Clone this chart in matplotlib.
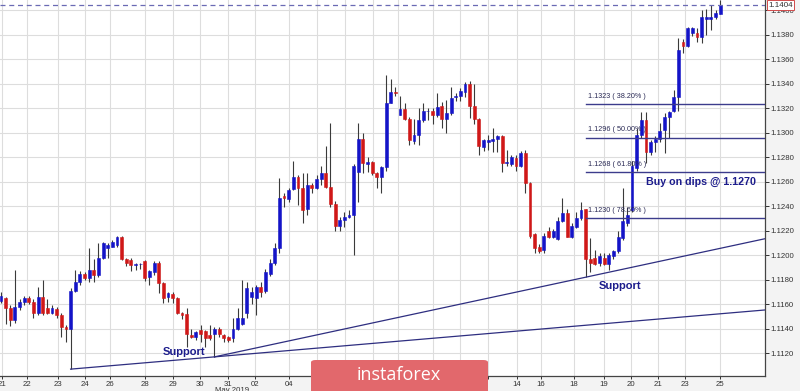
import matplotlib
matplotlib.use('Agg')
import matplotlib.pyplot as plt
from matplotlib.patches import FancyBboxPatch
import numpy as np

plt.rcParams['font.family'] = ['Liberation Sans', 'DejaVu Sans']

# ---- EUR/USD H4 candles ----
opens = [1.1163, 1.1165, 1.1157, 1.1147, 1.1158, 1.1162, 1.1165, 1.1162, 1.1153, 1.1166,
         1.1157, 1.1153, 1.1156, 1.1151, 1.1141, 1.1140, 1.1171, 1.1178, 1.1185, 1.1181,
         1.1188, 1.1184, 1.1198, 1.1206, 1.1207, 1.1208, 1.1215, 1.1197, 1.1196, 1.1192,
         1.1193, 1.1195, 1.1182, 1.1186, 1.1194, 1.1177, 1.1166, 1.1168, 1.1165, 1.1153,
         1.1152, 1.1135, 1.1133, 1.1139, 1.1138, 1.1135, 1.1136, 1.1140, 1.1135, 1.1133,
         1.1132, 1.1140, 1.1144, 1.1153, 1.1166, 1.1165, 1.1174, 1.1171, 1.1185, 1.1194,
         1.1206, 1.1248, 1.1246, 1.1254, 1.1264, 1.1255, 1.1238, 1.1257, 1.1255, 1.1262,
         1.1267, 1.1256, 1.1242, 1.1224, 1.1229, 1.1231, 1.1233, 1.1268, 1.1295, 1.1274,
         1.1276, 1.1267, 1.1264, 1.1272, 1.1324, 1.1333, 1.1314, 1.1319, 1.1311, 1.1293,
         1.1298, 1.1310, 1.1318, 1.1318, 1.1314, 1.1322, 1.1311, 1.1316, 1.1329, 1.1330,
         1.1333, 1.1340, 1.1322, 1.1311, 1.1288, 1.1292, 1.1293, 1.1295, 1.1297, 1.1275,
         1.1274, 1.1279, 1.1273, 1.1283, 1.1259, 1.1217, 1.1207, 1.1204, 1.1220, 1.1215,
         1.1213, 1.1228, 1.1234, 1.1215, 1.1223, 1.1230, 1.1238, 1.1197, 1.1198, 1.1194,
         1.1198, 1.1193, 1.1199, 1.1203, 1.1214, 1.1226, 1.1237, 1.1271, 1.1298, 1.1310,
         1.1284, 1.1292, 1.1295, 1.1302, 1.1313, 1.1318, 1.1329, 1.1374, 1.1371, 1.1381,
         1.1381, 1.1378, 1.1393, 1.1393, 1.1394, 1.1397]
highs = [1.1170, 1.1166, 1.1159, 1.1188, 1.1164, 1.1167, 1.1167, 1.1164, 1.1174, 1.1180,
         1.1164, 1.1159, 1.1158, 1.1153, 1.1143, 1.1173, 1.1188, 1.1187, 1.1186, 1.1206,
         1.1197, 1.1210, 1.1211, 1.1210, 1.1212, 1.1216, 1.1216, 1.1198, 1.1198, 1.1194,
         1.1194, 1.1196, 1.1188, 1.1195, 1.1195, 1.1178, 1.1170, 1.1170, 1.1166, 1.1154,
         1.1157, 1.1140, 1.1138, 1.1143, 1.1139, 1.1143, 1.1141, 1.1141, 1.1136, 1.1134,
         1.1149, 1.1157, 1.1180, 1.1178, 1.1174, 1.1176, 1.1178, 1.1189, 1.1197, 1.1210,
         1.1263, 1.1251, 1.1255, 1.1277, 1.1265, 1.1267, 1.1267, 1.1259, 1.1265, 1.1273,
         1.1289, 1.1308, 1.1244, 1.1231, 1.1235, 1.1237, 1.1274, 1.1308, 1.1300, 1.1280,
         1.1277, 1.1268, 1.1273, 1.1347, 1.1344, 1.1337, 1.1330, 1.1324, 1.1313, 1.1311,
         1.1320, 1.1324, 1.1320, 1.1320, 1.1332, 1.1325, 1.1327, 1.1337, 1.1332, 1.1336,
         1.1341, 1.1342, 1.1340, 1.1312, 1.1295, 1.1298, 1.1304, 1.1298, 1.1298, 1.1286,
         1.1282, 1.1282, 1.1285, 1.1286, 1.1260, 1.1218, 1.1209, 1.1218, 1.1223, 1.1221,
         1.1231, 1.1247, 1.1238, 1.1226, 1.1235, 1.1243, 1.1238, 1.1214, 1.1204, 1.1202,
         1.1202, 1.1202, 1.1204, 1.1220, 1.1255, 1.1239, 1.1277, 1.1304, 1.1317, 1.1317,
         1.1294, 1.1297, 1.1308, 1.1316, 1.1318, 1.1335, 1.1377, 1.1376, 1.1386, 1.1386,
         1.1385, 1.1400, 1.1401, 1.1404, 1.1400, 1.1408]
lows = [1.1161, 1.1144, 1.1142, 1.1145, 1.1155, 1.1159, 1.1160, 1.1149, 1.1151, 1.1151,
        1.1152, 1.1152, 1.1149, 1.1133, 1.1129, 1.1107, 1.1170, 1.1176, 1.1180, 1.1178,
        1.1178, 1.1182, 1.1197, 1.1198, 1.1207, 1.1207, 1.1196, 1.1191, 1.1187, 1.1188,
        1.1189, 1.1179, 1.1176, 1.1184, 1.1169, 1.1161, 1.1162, 1.1161, 1.1152, 1.1148,
        1.1125, 1.1132, 1.1131, 1.1129, 1.1125, 1.1131, 1.1117, 1.1133, 1.1129, 1.1129,
        1.1129, 1.1139, 1.1143, 1.1149, 1.1160, 1.1151, 1.1166, 1.1169, 1.1183, 1.1192,
        1.1202, 1.1239, 1.1243, 1.1253, 1.1241, 1.1226, 1.1233, 1.1251, 1.1254, 1.1257,
        1.1255, 1.1239, 1.1220, 1.1220, 1.1223, 1.1230, 1.1200, 1.1243, 1.1267, 1.1268,
        1.1265, 1.1255, 1.1251, 1.1269, 1.1324, 1.1330, 1.1314, 1.1310, 1.1290, 1.1291,
        1.1290, 1.1309, 1.1310, 1.1307, 1.1313, 1.1304, 1.1300, 1.1314, 1.1326, 1.1326,
        1.1329, 1.1312, 1.1307, 1.1282, 1.1285, 1.1286, 1.1284, 1.1284, 1.1268, 1.1273,
        1.1273, 1.1269, 1.1272, 1.1251, 1.1214, 1.1202, 1.1202, 1.1202, 1.1214, 1.1214,
        1.1212, 1.1227, 1.1215, 1.1214, 1.1222, 1.1229, 1.1182, 1.1186, 1.1192, 1.1191,
        1.1192, 1.1188, 1.1197, 1.1202, 1.1212, 1.1224, 1.1235, 1.1269, 1.1296, 1.1275,
        1.1282, 1.1284, 1.1292, 1.1283, 1.1296, 1.1317, 1.1318, 1.1365, 1.1370, 1.1379,
        1.1374, 1.1373, 1.1380, 1.1384, 1.1393, 1.1397]
closes = [1.1167, 1.1157, 1.1147, 1.1158, 1.1162, 1.1165, 1.1162, 1.1153, 1.1166, 1.1153,
          1.1153, 1.1157, 1.1151, 1.1141, 1.1140, 1.1171, 1.1178, 1.1185, 1.1181, 1.1188,
          1.1184, 1.1198, 1.1210, 1.1208, 1.1211, 1.1215, 1.1197, 1.1194, 1.1192, 1.1193,
          1.1193, 1.1181, 1.1187, 1.1194, 1.1177, 1.1165, 1.1169, 1.1165, 1.1153, 1.1151,
          1.1136, 1.1133, 1.1137, 1.1136, 1.1132, 1.1132, 1.1140, 1.1136, 1.1132, 1.1131,
          1.1140, 1.1149, 1.1149, 1.1173, 1.1170, 1.1174, 1.1170, 1.1186, 1.1194, 1.1206,
          1.1247, 1.1247, 1.1253, 1.1264, 1.1255, 1.1237, 1.1257, 1.1255, 1.1262, 1.1267,
          1.1256, 1.1242, 1.1224, 1.1229, 1.1231, 1.1233, 1.1273, 1.1295, 1.1275, 1.1276,
          1.1267, 1.1264, 1.1272, 1.1324, 1.1333, 1.1332, 1.1319, 1.1311, 1.1294, 1.1298,
          1.1310, 1.1318, 1.1318, 1.1314, 1.1321, 1.1311, 1.1316, 1.1328, 1.1330, 1.1334,
          1.1340, 1.1322, 1.1311, 1.1289, 1.1294, 1.1294, 1.1295, 1.1297, 1.1275, 1.1276,
          1.1280, 1.1273, 1.1283, 1.1259, 1.1216, 1.1206, 1.1203, 1.1216, 1.1215, 1.1220,
          1.1228, 1.1234, 1.1215, 1.1224, 1.1230, 1.1237, 1.1197, 1.1194, 1.1193, 1.1199,
          1.1193, 1.1200, 1.1203, 1.1215, 1.1228, 1.1233, 1.1273, 1.1298, 1.1310, 1.1284,
          1.1292, 1.1295, 1.1301, 1.1313, 1.1317, 1.1329, 1.1367, 1.1371, 1.1385, 1.1385,
          1.1378, 1.1394, 1.1394, 1.1394, 1.1398, 1.1404]

# date axis labels (positions in candle units); labels under the logo are hidden
date_labels = ['21', '22', '23', '24', '26', '28', '29', '30', '31', '02', '04', '05', '06',
               '07', '09', '11', '12', '13', '14', '16', '18', '19', '20', '21', '23', '25']
date_pos = [0.2, 5.6, 12.3, 18.1, 23.5, 31.0, 37.1, 42.9, 48.9, 54.7, 62.1, 68.1, 74.1,
            80.2, 85.6, 93.1, 98.9, 105.0, 111.2, 116.4, 123.5, 130.0, 135.8, 141.6, 147.4, 155.0]
hidden_labels = ['05', '06', '07', '09', '11', '12', '13']

price_ticks = [1.1120, 1.1140, 1.1160, 1.1180, 1.1200, 1.1220, 1.1240, 1.1260,
               1.1280, 1.1300, 1.1320, 1.1340, 1.1360, 1.1380, 1.1400]

# Fibonacci retracement levels
fib_prices = [1.1323, 1.1296, 1.1268, 1.1230]
fib_pcts = ['38.20%', '50.00%', '61.80%', '78.60%']
fib_start = 126

last_price = 1.1404
buy_level = '1.1270'

# trend line anchors (candle index, price)
trend_a = [(15, 1.1107), (46, 1.1117)]
trend_b = [(46, 1.1117), (126, 1.1182)]

# ---- figure ----
W, H = 800, 391
fig = plt.figure(figsize=(W / 100, H / 100), dpi=100, facecolor='#f3f3f3')
ax = fig.add_axes([0, 15 / H, 765 / W, 376 / H])
ax.set_facecolor('white')

XMIN, XMAX = -0.216, 164.66
ax.set_xlim(XMIN, XMAX)
ax.set_ylim(1.11014, 1.14082)

ax.set_xticks(date_pos)
ax.set_xticklabels(date_labels)
for lab, txt in zip(ax.get_xticklabels(), date_labels):
    pass
labs = ax.get_xticklabels()
for i, txt in enumerate(date_labels):
    if txt in hidden_labels and 60 < date_pos[i] < 110:
        labs[i].set_visible(False)
ax.set_yticks(price_ticks)
ax.set_yticklabels(['%.4f' % p for p in price_ticks])
ax.yaxis.tick_right()
ax.tick_params(axis='y', direction='out', length=3, width=0.7, pad=1,
               labelsize=5.6, colors='#333333')
ax.tick_params(axis='x', direction='out', length=2, width=0.7, pad=1.5,
               labelsize=5.6, colors='#333333')
ax.grid(True, color='#dddddd', lw=0.8)
ax.set_axisbelow(True)
for s in ['left', 'top']:
    ax.spines[s].set_visible(False)
for s in ['right', 'bottom']:
    ax.spines[s].set_color('#444444')
    ax.spines[s].set_linewidth(0.9)

# candles
x = np.arange(len(opens))
o = np.array(opens); h = np.array(highs); l = np.array(lows); c = np.array(closes)
up = c >= o
ax.vlines(x, l, h, color='#3a3a3a', lw=0.8, zorder=2)
bot = np.minimum(o, c)
hgt = np.abs(c - o)
colors = np.where(up, '#1414c8', '#d01818')
ax.bar(x, hgt, bottom=bot, width=0.62, color=colors, edgecolor=colors,
       linewidth=0.4, zorder=3)

# last price dashed line and label
ax.axhline(last_price, color='#6a6ab4', ls=(0, (4, 3)), lw=0.9, zorder=4)
ax.annotate('%.4f' % last_price, xy=(1.0, last_price), xycoords=('axes fraction', 'data'),
            xytext=(2.5, 0), textcoords='offset points', ha='left', va='center',
            fontsize=5.8, color='#333333', annotation_clip=False,
            bbox=dict(boxstyle='square,pad=0.15', fc='white', ec='#d04a4a', lw=0.7))

# fib levels
for p, pct in zip(fib_prices, fib_pcts):
    ax.plot([fib_start, XMAX], [p, p], color='#3c3c8c', lw=1.0, zorder=4)
    ax.annotate('%.4f ( %s )' % (p, pct), xy=(fib_start, p), xytext=(1.5, 3.0),
                textcoords='offset points', ha='left', va='bottom',
                fontsize=5.2, color='#2a2a55', zorder=5)

# trend lines
for (x0, y0), (x1, y1) in [trend_a, trend_b]:
    slope = (y1 - y0) / (x1 - x0)
    ax.plot([x0, XMAX], [y0, y0 + slope * (XMAX - x0)], color='#2e2e80', lw=0.9, zorder=4)

# annotations
ax.text(39.4, 1.1121, 'Support', fontsize=8, fontweight='bold', color='#1c1c8c',
        ha='center', va='center', zorder=6)
ax.text(133.4, 1.11748, 'Support', fontsize=8, fontweight='bold', color='#1c1c8c',
        ha='center', va='center', zorder=6)
ax.text(139.0, 1.1260, 'Buy on dips @ ' + buy_level, fontsize=7.7, fontweight='bold',
        color='#1c1c8c', ha='left', va='center', zorder=6)

# month label, mostly cut off by the bottom edge
fig.text(232 / W, 1 - 387.5 / H, 'May 2019', fontsize=5.6, color='#333333',
         ha='center', va='top')

# watermark logo
logo = FancyBboxPatch((311 / W, -0.05), 177 / W, 31 / H + 0.05,
                      boxstyle='round,pad=0,rounding_size=0.006',
                      transform=fig.transFigure, fc='#e2686c', ec='none', zorder=10)
fig.patches.append(logo)
fig.text(399 / W, 1 - 374.5 / H, 'instaforex', fontsize=13, color='white',
         family=['Open Sans', 'DejaVu Sans'], ha='center', va='center', zorder=11)

fig.savefig('out.png', dpi=100, facecolor=fig.get_facecolor())
